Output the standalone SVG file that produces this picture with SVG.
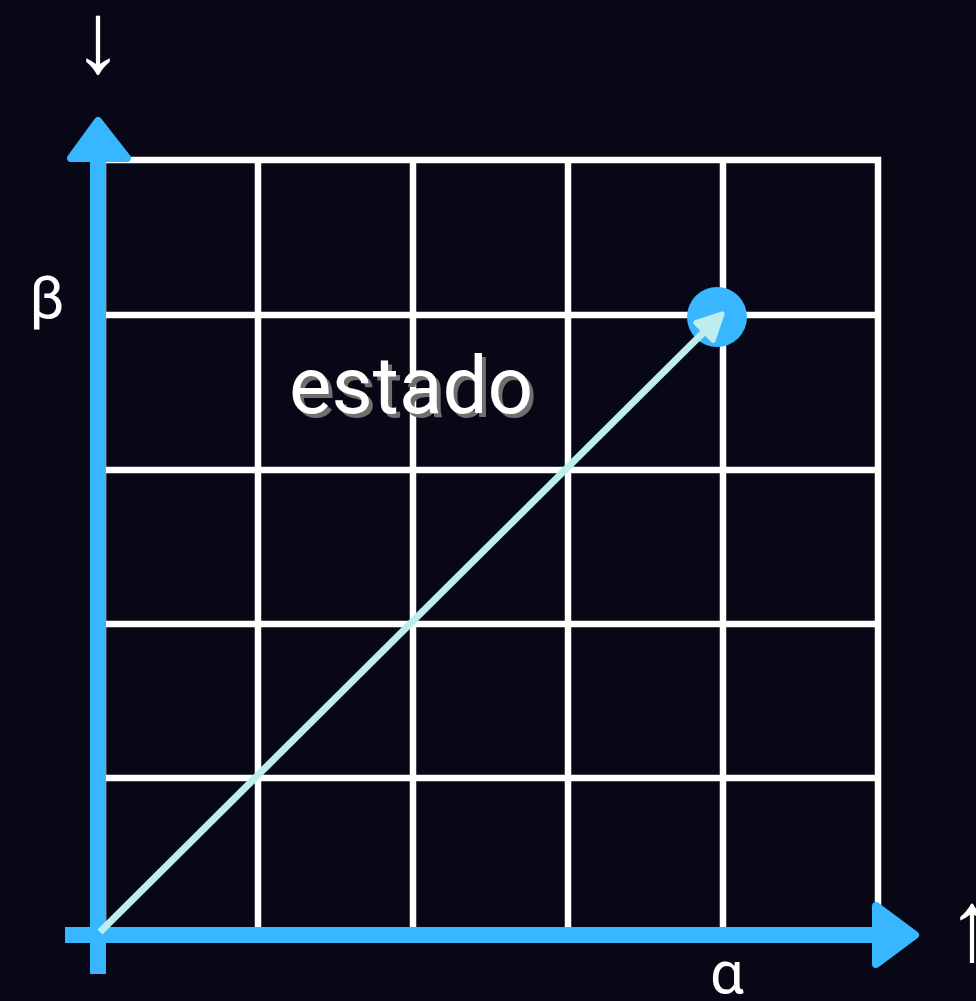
<svg xmlns="http://www.w3.org/2000/svg" width="976" height="1001" viewBox="0 0 976 1001">
<defs>
<style>
.grid{stroke:#ffffff;stroke-width:6.5;fill:none}
.axis{stroke:#38b6ff;stroke-width:16;fill:none}
.head{fill:#38b6ff;stroke:#38b6ff;stroke-width:8;stroke-linejoin:round}
.lbl{font-family:Roboto,"DejaVu Sans",sans-serif;fill:#ffffff}
.arr{font-family:"Liberation Sans","DejaVu Sans",sans-serif;fill:#ffffff}
</style>
<marker id="ah" viewBox="0 0 10 10" refX="8" refY="5" markerWidth="4.5" markerHeight="4.5" orient="auto" markerUnits="strokeWidth">
<path d="M1,1 L9,5 L1,9 Z" fill="#bdeeee" stroke="#bdeeee" stroke-width="1.5" stroke-linejoin="round"/>
</marker>
</defs>
<rect width="976" height="1001" fill="#070716"/>
<g id="grid" class="grid">
<rect x="103" y="160" width="775" height="775"/>
<path d="M258,160V935M413,160V935M568,160V935M723,160V935M103,315H878M103,470H878M103,624H878M103,778H878"/>
</g>
<g id="connectors">
<path class="axis" d="M98,974V158"/>
<path class="head" d="M98,121 L127,158 L71,158 Z"/>
<path class="axis" d="M65,935H876"/>
<path class="head" d="M915,935 L876,906 L876,964 Z"/>
</g>
<g id="state">
<circle cx="717" cy="317" r="30" fill="#38b6ff"/>
</g>
<g id="vector">
<path d="M100,932 L720,316" stroke="#bdeeee" stroke-width="7" fill="none" marker-end="url(#ah)"/>
</g>
<g id="labels">
<text class="lbl" x="293" y="417" font-size="80" fill="#6f6f6f" style="fill:#6f6f6f">estado</text>
<text class="lbl" x="289" y="413" font-size="80">estado</text>
<text class="lbl" x="47" y="318" font-size="60" text-anchor="middle">β</text>
<text class="lbl" x="727" y="993" font-size="60" text-anchor="middle">α</text>
<text class="arr" x="98" y="72" font-size="100" text-anchor="middle">↓</text>
<text class="arr" x="972" y="960" font-size="100" text-anchor="middle">↑</text>
</g>
</svg>
